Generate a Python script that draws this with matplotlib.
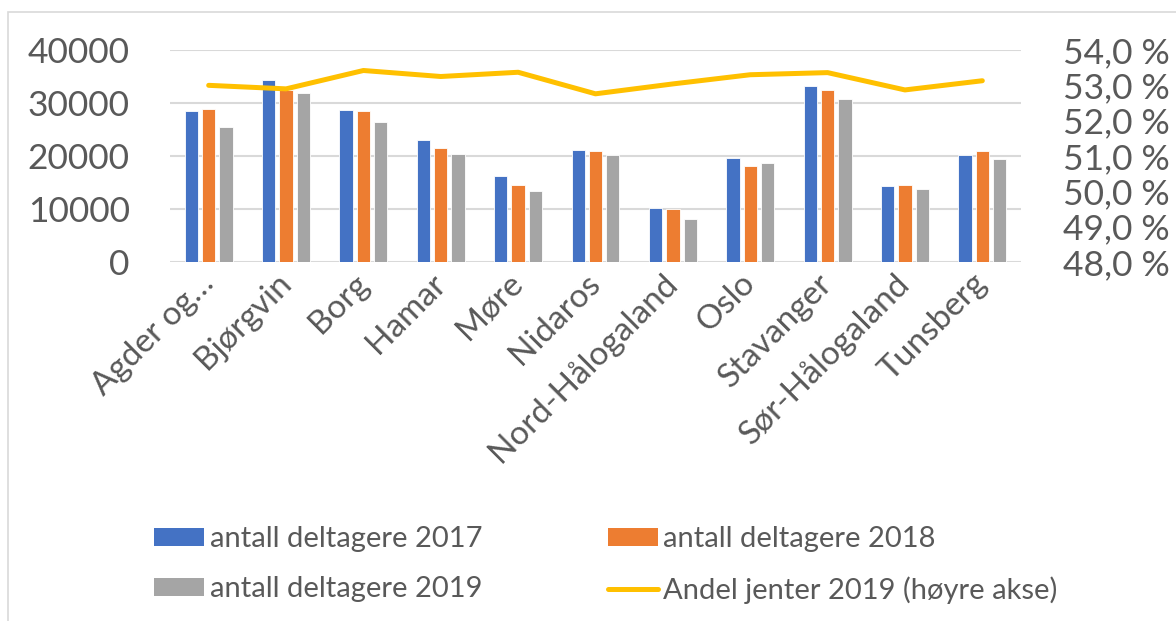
import matplotlib
matplotlib.use("Agg")
import matplotlib.pyplot as plt
import numpy as np
from matplotlib.patches import Rectangle, Patch
from matplotlib.lines import Line2D
from matplotlib.ticker import FuncFormatter

categories = ["Agder og…", "Bjørgvin", "Borg", "Hamar", "Møre", "Nidaros",
              "Nord-Hålogaland", "Oslo", "Stavanger", "Sør-Hålogaland", "Tunsberg"]
deltagere_2017 = [28400, 34400, 28600, 23100, 16300, 21200, 10200, 19700, 33200, 14300, 20100]
deltagere_2018 = [28800, 32500, 28400, 21600, 14600, 21000, 10000, 18200, 32500, 14600, 20900]
deltagere_2019 = [25400, 31800, 26500, 20400, 13400, 20100, 8200, 18600, 30800, 13800, 19500]
andel_jenter_2019 = [53.0, 52.9, 53.42, 53.25, 53.37, 52.76, 53.04, 53.3, 53.36, 52.87, 53.13]

left_ticks = [0, 10000, 20000, 30000, 40000]
right_ticks = [48, 49, 50, 51, 52, 53, 54]

labels_legend = ["antall deltagere 2017", "antall deltagere 2018",
                 "antall deltagere 2019", "Andel jenter 2019 (høyre akse)"]

C17, C18, C19, CL = "#4472C4", "#ED7D31", "#A5A5A5", "#FFC000"
TXT = "#595959"
GRID = "#D9D9D9"

plt.rcParams["font.family"] = ["Lato", "DejaVu Sans"]

W, H = 1176, 621
fig = plt.figure(figsize=(W / 100, H / 100), dpi=100)
ax = fig.add_axes([170 / W, 1 - 262 / H, (1021 - 170) / W, (262 - 50) / H])

x = np.arange(len(categories))
bw = 0.172
step = 0.224
ax.bar(x - step, deltagere_2017, bw, color=C17, edgecolor="white", linewidth=0.6, zorder=3)
ax.bar(x, deltagere_2018, bw, color=C18, edgecolor="white", linewidth=0.6, zorder=3)
ax.bar(x + step, deltagere_2019, bw, color=C19, edgecolor="white", linewidth=0.6, zorder=3)

ax.set_xlim(-0.5, len(categories) - 0.5)
ax.set_ylim(0, 40000)
ax.set_yticks(left_ticks)
ax.set_yticklabels([str(t) for t in left_ticks])
ax.yaxis.grid(True, color=GRID, linewidth=1.5, zorder=0)
ax.set_axisbelow(True)
for s in ax.spines.values():
    s.set_visible(False)
ax.tick_params(axis="y", length=0, pad=29, labelsize=25.5, labelcolor=TXT)
ax.tick_params(axis="x", length=0, pad=12, labelsize=24, labelcolor=TXT)
ax.set_xticks(x)
ax.set_xticklabels(categories, rotation=45, ha="right", va="center", rotation_mode="anchor")

ax2 = ax.twinx()
ax2.plot(x, andel_jenter_2019, color=CL, linewidth=3.6, solid_capstyle="round",
         solid_joinstyle="round", zorder=4)
ax2.set_ylim(48, 54)
ax2.set_yticks(right_ticks)
ax2.yaxis.set_major_formatter(FuncFormatter(lambda v, p: f"{v:.1f}".replace(".", ",") + " %"))
for s in ax2.spines.values():
    s.set_visible(False)
ax2.tick_params(axis="y", length=0, pad=30, labelsize=25.5, labelcolor=TXT)

# chart frame (extends beyond image on right and bottom)
fig.patches.append(Rectangle((8 / W, -0.1), 1.2, 1 - 12 / H + 0.1, transform=fig.transFigure,
                             fill=False, edgecolor=GRID, linewidth=1.2))

handles = [
    Patch(facecolor=C17, edgecolor="none"),
    Patch(facecolor=C19, edgecolor="none"),
    Patch(facecolor=C18, edgecolor="none"),
    Line2D([0], [0], color=CL, linewidth=3.6, solid_capstyle="round"),
]
leg_labels = [labels_legend[0], labels_legend[2], labels_legend[1], labels_legend[3]]
leg = fig.legend(handles, leg_labels, ncol=2, loc="upper left",
                 bbox_to_anchor=(154 / W, 1 - 526 / H), frameon=False,
                 fontsize=21, labelcolor=TXT, handlelength=1.71, handleheight=0.58,
                 handletextpad=0.2, columnspacing=4.3, labelspacing=0.82,
                 borderpad=0, borderaxespad=0)

fig.savefig("out.png", dpi=100)
